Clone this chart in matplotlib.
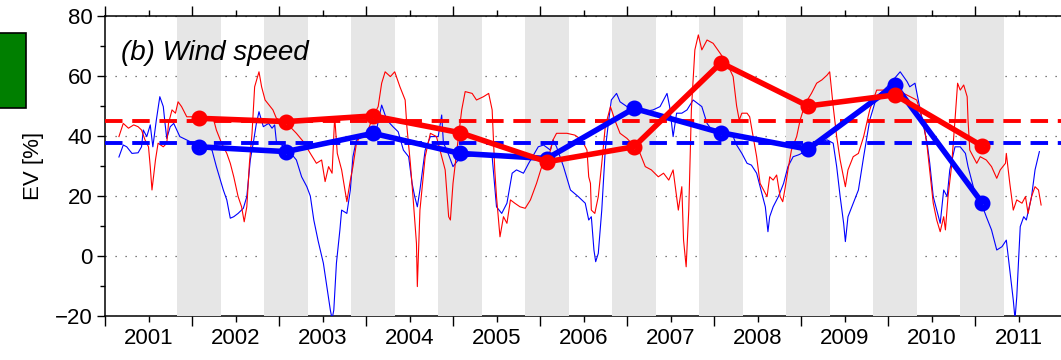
import numpy as np
import matplotlib
matplotlib.use("Agg")
import matplotlib.pyplot as plt
from matplotlib.patches import Rectangle
from matplotlib.ticker import MultipleLocator, FixedLocator, NullFormatter

plt.rcParams['font.family'] = ['Liberation Sans', 'DejaVu Sans']

# thin curves: time in years since 2001-01-01, EV in %
t_blue = [0.16, 0.21, 0.25, 0.31, 0.38, 0.42, 0.44, 0.48, 0.52, 0.55, 0.59, 0.63, 0.67, 0.69,
          0.71, 0.75, 0.79, 0.86, 0.98, 1.13, 1.23, 1.28, 1.36, 1.40, 1.44, 1.48, 1.53, 1.59,
          1.63, 1.67, 1.71, 1.74, 1.77, 1.82, 1.88, 1.92, 1.95, 1.97, 2.09, 2.20, 2.26, 2.32,
          2.36, 2.40, 2.45, 2.51, 2.55, 2.59, 2.61, 2.63, 2.66, 2.70, 2.72, 2.78, 2.82, 2.85,
          2.89, 2.97, 3.05, 3.12, 3.18, 3.24, 3.31, 3.37, 3.43, 3.49, 3.53, 3.56, 3.59, 3.62,
          3.68, 3.74, 3.83, 3.87, 3.89, 3.93, 4.00, 4.06, 4.16, 4.27, 4.39, 4.45, 4.50, 4.56,
          4.62, 4.68, 4.73, 4.81, 4.87, 4.98, 5.04, 5.12, 5.15, 5.19, 5.27, 5.35, 5.44, 5.52,
          5.56, 5.59, 5.62, 5.64, 5.67, 5.71, 5.75, 5.79, 5.82, 5.88, 5.92, 6.00, 6.07, 6.19,
          6.30, 6.38, 6.46, 6.49, 6.53, 6.57, 6.63, 6.69, 6.76, 6.86, 6.92, 6.99, 7.11, 7.22,
          7.26, 7.32, 7.38, 7.43, 7.49, 7.55, 7.59, 7.62, 7.64, 7.68, 7.74, 7.80, 7.85, 7.91,
          7.97, 8.05, 8.18, 8.30, 8.37, 8.41, 8.45, 8.49, 8.51, 8.54, 8.60, 8.66, 8.72, 8.79,
          8.87, 8.99, 9.06, 9.14, 9.22, 9.25, 9.31, 9.37, 9.45, 9.48, 9.52, 9.56, 9.60, 9.64,
          9.68, 9.71, 9.77, 9.83, 9.89, 9.92, 10.00, 10.08, 10.13, 10.19, 10.25, 10.31, 10.36,
          10.40, 10.44, 10.46, 10.48, 10.52, 10.56, 10.59, 10.65, 10.69, 10.74]
ev_blue = [33.0, 37.0, 36.4, 34.2, 34.4, 36.4, 42.0, 39.8, 43.7, 36.4, 45.3, 53.1, 49.8, 44.2,
           39.2, 43.1, 44.2, 39.8, 38.1, 36.4, 35.3, 29.8, 22.0, 18.7, 12.6, 13.1, 14.2, 15.9,
           19.8, 32.0, 38.7, 44.2, 48.1, 43.1, 44.2, 42.6, 43.7, 38.1, 35.9, 32.0, 26.4, 23.1,
           20.0, 12.0, 5.0, -2.4, -10.2, -18.0, -21.0, -18.0, -2.4, 8.7, 15.3, 14.2, 22.0, 33.1,
           38.7, 39.8, 39.2, 42.0, 50.3, 45.3, 43.1, 41.4, 35.3, 33.1, 24.2, 19.8, 16.4, 22.0,
           35.3, 39.8, 39.8, 47.0, 37.6, 35.3, 29.8, 32.0, 33.1, 33.7, 34.2, 33.1, 16.4, 14.2,
           17.6, 27.6, 28.7, 27.6, 30.9, 36.4, 37.0, 35.3, 38.7, 36.4, 29.8, 22.0, 19.8, 17.6,
           12.0, 13.1, 2.0, -1.9, 0.9, 15.3, 35.3, 45.3, 52.0, 54.2, 51.4, 49.8, 48.7, 48.1,
           48.7, 49.8, 54.2, 49.8, 39.8, 47.6, 47.6, 48.7, 52.0, 49.8, 44.2, 41.4, 40.9, 39.8,
           37.0, 34.2, 30.9, 30.3, 27.6, 20.9, 16.4, 8.1, 13.1, 16.4, 19.8, 24.2, 29.8, 33.1,
           33.7, 34.8, 37.6, 38.7, 37.6, 29.8, 19.8, 10.9, 4.8, 13.1, 17.6, 22.0, 33.1, 45.3,
           53.1, 56.4, 58.7, 61.4, 58.1, 56.4, 57.6, 48.7, 37.6, 30.9, 19.8, 15.3, 10.9, 22.0,
           19.8, 28.7, 36.4, 36.4, 34.2, 29.8, 20.9, 17.0, 13.1, 8.7, 2.0, 3.1, 5.3,
           -4.7, -14.7, -21.0, -13.6, 9.8, 13.1, 12.0, 19.8, 28.7, 34.8]

t_red = [0.16, 0.21, 0.27, 0.33, 0.38, 0.42, 0.46, 0.50, 0.52, 0.54, 0.58, 0.61, 0.67, 0.71,
         0.73, 0.77, 0.81, 0.84, 0.88, 0.94, 1.05, 1.17, 1.25, 1.28, 1.34, 1.40, 1.44, 1.48,
         1.53, 1.57, 1.60, 1.63, 1.66, 1.69, 1.72, 1.77, 1.80, 1.84, 1.90, 1.93, 1.97, 2.09,
         2.20, 2.28, 2.36, 2.43, 2.49, 2.53, 2.57, 2.61, 2.64, 2.67, 2.72, 2.78, 2.82, 2.85,
         2.89, 2.93, 3.01, 3.08, 3.14, 3.18, 3.22, 3.28, 3.33, 3.39, 3.45, 3.47, 3.51, 3.54,
         3.58, 3.59, 3.62, 3.68, 3.74, 3.81, 3.87, 3.91, 3.95, 3.97, 4.00, 4.04, 4.10, 4.14,
         4.22, 4.27, 4.35, 4.41, 4.45, 4.48, 4.50, 4.54, 4.58, 4.62, 4.66, 4.71, 4.77, 4.83,
         4.89, 4.96, 5.02, 5.10, 5.15, 5.19, 5.31, 5.40, 5.48, 5.54, 5.56, 5.58, 5.59, 5.63,
         5.67, 5.71, 5.75, 5.81, 5.86, 5.92, 6.00, 6.09, 6.15, 6.21, 6.28, 6.36, 6.42, 6.48,
         6.53, 6.57, 6.59, 6.63, 6.65, 6.68, 6.71, 6.74, 6.78, 6.82, 6.86, 6.92, 6.99, 7.07,
         7.15, 7.22, 7.26, 7.29, 7.32, 7.38, 7.41, 7.45, 7.49, 7.53, 7.57, 7.61, 7.64, 7.68,
         7.72, 7.76, 7.79, 7.82, 7.85, 7.89, 7.95, 7.99, 8.05, 8.12, 8.18, 8.24, 8.30, 8.33,
         8.37, 8.41, 8.45, 8.51, 8.54, 8.60, 8.66, 8.72, 8.79, 8.87, 8.95, 9.06, 9.18, 9.33,
         9.41, 9.45, 9.52, 9.56, 9.60, 9.64, 9.66, 9.69, 9.73, 9.77, 9.80, 9.83, 9.87, 9.91,
         9.92, 9.94, 9.98, 10.02, 10.06, 10.13, 10.19, 10.25, 10.29, 10.35, 10.36, 10.40,
         10.44, 10.48, 10.54, 10.58, 10.61, 10.65, 10.69, 10.73, 10.76]
ev_red = [39.8, 44.2, 42.6, 43.7, 43.1, 42.0, 38.7, 36.4, 29.8, 22.0, 32.0, 37.6, 36.4, 37.6,
          44.2, 48.7, 47.6, 51.4, 49.8, 46.4, 46.4, 45.3, 45.3, 42.0, 37.6, 34.2, 30.9, 26.4,
          19.8, 16.4, 11.4, 16.4, 30.9, 40.9, 56.4, 61.4, 56.4, 52.0, 49.8, 48.7, 45.9, 44.2,
          40.9, 38.1, 34.2, 30.9, 32.0, 24.8, 29.8, 27.6, 46.4, 34.2, 28.7, 18.1, 25.3, 29.8,
          37.6, 39.8, 40.9, 46.4, 49.8, 57.6, 61.4, 59.8, 61.4, 56.4, 52.0, 43.1, 30.9, 19.8,
          4.2, -10.2, 15.3, 33.1, 40.9, 39.8, 33.1, 28.7, 13.1, 12.0, 24.2, 34.2, 48.7, 54.8,
          54.2, 52.0, 53.1, 54.2, 48.7, 28.7, 19.8, 6.4, 13.1, 10.9, 18.7, 17.6, 16.4, 15.9,
          18.7, 24.2, 29.8, 33.1, 38.7, 40.9, 40.9, 40.3, 38.7, 35.3, 26.4, 24.2, 15.3, 14.2,
          19.8, 30.9, 43.1, 49.8, 45.3, 40.9, 39.2, 36.4, 34.2, 29.8, 28.7, 26.4, 27.6, 25.3,
          28.7, 19.8, 15.3, 23.1, 5.3, -3.6, 15.3, 48.7, 68.7, 73.7, 68.7, 72.0, 70.9, 67.6,
          64.2, 59.8, 50.0, 45.3, 47.6, 47.6, 46.4, 39.8, 33.1, 24.2, 22.0, 19.8, 26.4, 25.3,
          27.0, 19.8, 18.1, 23.1, 28.7, 35.3, 39.8, 45.3, 50.9, 54.2, 57.6, 58.7, 60.3, 61.4,
          49.8, 39.8, 32.0, 23.1, 28.7, 33.1, 34.2, 39.8, 48.7, 55.3, 55.3, 54.8, 54.2, 52.0,
          44.2, 36.4, 17.6, 12.0, 8.1, 13.1, 8.7, 19.8, 29.8, 45.3, 57.6, 55.3, 57.0, 53.1,
          45.3, 35.3, 33.1, 30.9, 33.1, 32.0, 29.8, 25.9, 28.7, 30.9, 34.2, 24.2,
          15.3, 18.7, 17.6, 19.8, 14.2, 19.8, 23.1, 22.0, 17.0]

# winter means (thick lines)
winter_mid = [2002.08, 2003.08, 2004.08, 2005.08, 2006.08, 2007.08, 2008.08, 2009.08, 2010.08, 2011.08]
red_winter = [45.9, 44.8, 46.7, 41.1, 31.4, 36.4, 64.4, 50.0, 53.7, 36.7]
blue_winter = [36.4, 34.8, 40.9, 34.2, 32.5, 49.2, 41.1, 35.6, 57.0, 17.8]
red_mean = 45.1
blue_mean = 37.8

# shaded winter seasons (Nov - Apr)
band_start = [2001.83, 2002.83, 2003.83, 2004.83, 2005.83, 2006.83, 2007.83, 2008.83, 2009.83, 2010.83]
band_end = [2002.33, 2003.33, 2004.33, 2005.33, 2006.33, 2007.33, 2008.33, 2009.33, 2010.33, 2011.33]

year_labels = ['2001', '2002', '2003', '2004', '2005', '2006', '2007', '2008', '2009', '2010', '2011']

fig = plt.figure(figsize=(10.61, 3.6), dpi=100)
ax = fig.add_axes([105 / 1061, 44 / 360, 957 / 1061, 300 / 360])

for s, e in zip(band_start, band_end):
    ax.axvspan(s, e, color='#e6e6e6', lw=0, zorder=1.5)

ax.plot(2001 + np.array(t_blue), ev_blue, color='#0000ff', lw=0.8, zorder=3)
ax.plot(2001 + np.array(t_red), ev_red, color='#ff0000', lw=0.8, zorder=3.1)

ax.axhline(blue_mean, color='#0000ff', lw=2.8, dashes=(4.5, 2.5), zorder=3.5)
ax.axhline(red_mean, color='#ff0000', lw=2.8, dashes=(4.5, 2.5), zorder=3.6)

ax.plot(winter_mid, blue_winter, '-o', color='#0000ff', lw=4, ms=7, mew=4.5,
        mfc='none', zorder=4)
ax.plot(winter_mid, red_winter, '-o', color='#ff0000', lw=4, ms=7, mew=4.5,
        mfc='none', zorder=4.1)

ax.set_xlim(2001, 2012)
ax.set_ylim(-20, 80)

# major ticks at year boundaries, labels centred on each year
ax.xaxis.set_major_locator(FixedLocator(np.arange(2001, 2013)))
ax.xaxis.set_major_formatter(NullFormatter())
ax.xaxis.set_minor_locator(FixedLocator(np.arange(2001, 2012) + 0.5))
ax.set_xticklabels(year_labels, minor=True)
ax.tick_params(axis='x', which='both', top=True, bottom=True, direction='out')
ax.tick_params(axis='x', which='major', length=7, width=1)
ax.tick_params(axis='x', which='minor', length=4, width=1, labelsize=16, pad=5)

ax.yaxis.set_major_locator(MultipleLocator(20))
ax.yaxis.set_minor_locator(MultipleLocator(10))
ax.tick_params(axis='y', which='both', left=True, right=False, direction='out', labelsize=16)
ax.tick_params(axis='y', which='major', length=6, width=1, pad=3)
ax.tick_params(axis='y', which='minor', length=3.5, width=1)

ax.set_axisbelow(True)
ax.grid(axis='y', which='major', color='#555555', lw=0.9, linestyle=(0, (1, 7)))

ax.spines['right'].set_visible(False)
ax.spines['bottom'].set_zorder(1)
ax.spines['top'].set_zorder(5)
for sp in ('left', 'top', 'bottom'):
    ax.spines[sp].set_linewidth(1.1)

ax.set_ylabel('EV [%]', fontsize=16, labelpad=8)

ax.text(0.0167, 0.853, '(b) Wind speed', transform=ax.transAxes, fontsize=20,
        style='italic', va='baseline', ha='left', zorder=6)

# green patch left by the neighbouring panel
fig.patches.append(Rectangle((-0.01, 252 / 360), 0.01 + 26 / 1061, 75 / 360,
                             transform=fig.transFigure, facecolor='#007f00',
                             edgecolor='black', lw=1.2))

fig.savefig('out.png', dpi=100)
